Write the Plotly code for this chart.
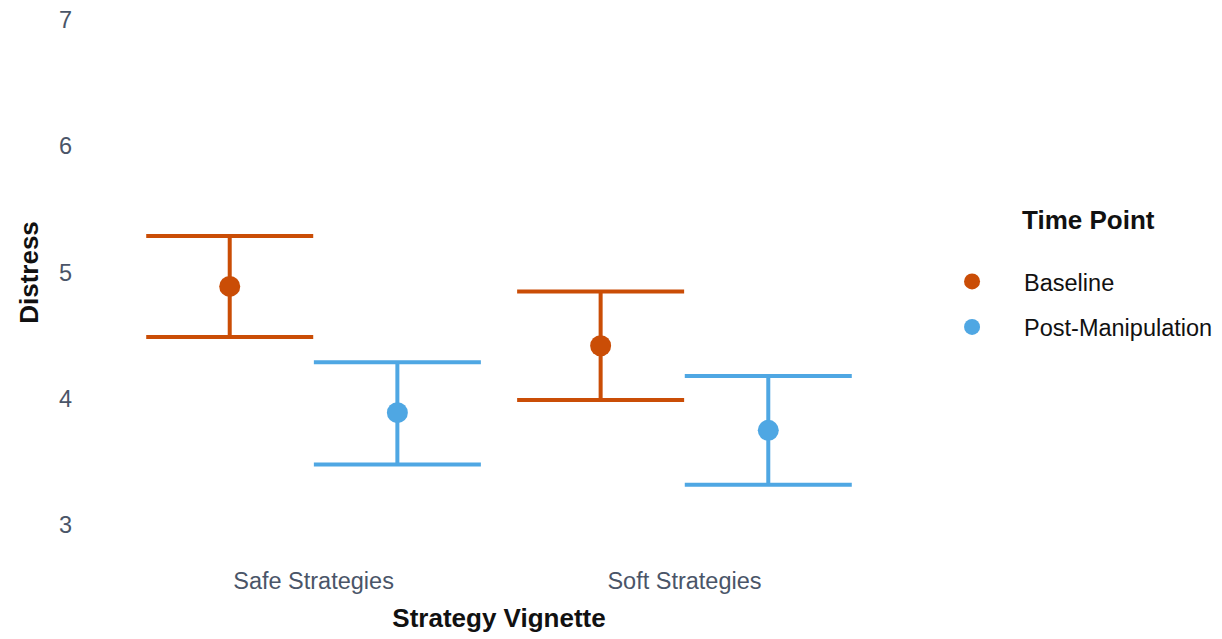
import plotly.graph_objects as go

# Data
vignettes = ["Safe Strategies", "Soft Strategies"]
time_points = ["Baseline", "Post-Manipulation"]
baseline_mean = [4.89, 4.42]
baseline_lower = [4.49, 3.99]
baseline_upper = [5.29, 4.85]
post_mean = [3.89, 3.75]
post_lower = [3.48, 3.32]
post_upper = [4.29, 4.18]

colors = {"Baseline": "#CA4D06", "Post-Manipulation": "#4FA7E3"}
dodge = {"Baseline": -0.226, "Post-Manipulation": 0.226}

series = {
    "Baseline": (baseline_mean, baseline_lower, baseline_upper),
    "Post-Manipulation": (post_mean, post_lower, post_upper),
}

fig = go.Figure()
for i, tp in enumerate(time_points):
    mean, lo, hi = series[tp]
    xs = [k + 1 + dodge[tp] for k in range(len(vignettes))]
    fig.add_trace(go.Scatter(
        x=xs, y=mean, mode="markers", name=tp,
        legendgroup=tp,
        marker=dict(color=colors[tp], size=21),
        error_y=dict(
            type="data", symmetric=False,
            array=[h - m for h, m in zip(hi, mean)],
            arrayminus=[m - l for m, l in zip(mean, lo)],
            color=colors[tp], thickness=4, width=83.5,
        ),
    ))

font_family = "Liberation Sans, Arial, sans-serif"
tick_color = "#4A5568"

fig.update_layout(
    width=1222, height=639,
    margin=dict(l=91, r=315, t=1, b=95),
    paper_bgcolor="white", plot_bgcolor="white",
    font=dict(family=font_family, size=23, color=tick_color),
    xaxis=dict(
        range=[0.4, 2.6], tickvals=[1, 2], ticktext=vignettes,
        showgrid=False, zeroline=False, showline=False,
        ticks="", ticklabelstandoff=20,
        tickfont=dict(size=23.5, color=tick_color),
        title=dict(text="<b>Strategy Vignette</b>", standoff=16,
                   font=dict(size=26, color="#111111")),
    ),
    yaxis=dict(
        range=[2.85, 7.15], tickvals=[3, 4, 5, 6, 7],
        showgrid=False, zeroline=False, showline=False,
        ticks="", ticklabelstandoff=18,
        tickfont=dict(size=23.5, color=tick_color),
        title=dict(text="<b>Distress</b>", standoff=12,
                   font=dict(size=26, color="#111111")),
    ),
    legend=dict(
        x=1.016, xanchor="left", y=0.358, yanchor="bottom",
        font=dict(size=23.5, color="#111111"),
        tracegroupgap=12, itemwidth=94,
    ),
    annotations=[dict(
        text="<b>Time Point</b>", xref="paper", yref="paper",
        x=1.1385, y=0.597, xanchor="left", yanchor="middle",
        showarrow=False, font=dict(size=26, color="#111111"),
    )],
)

fig.write_html("out.html")
